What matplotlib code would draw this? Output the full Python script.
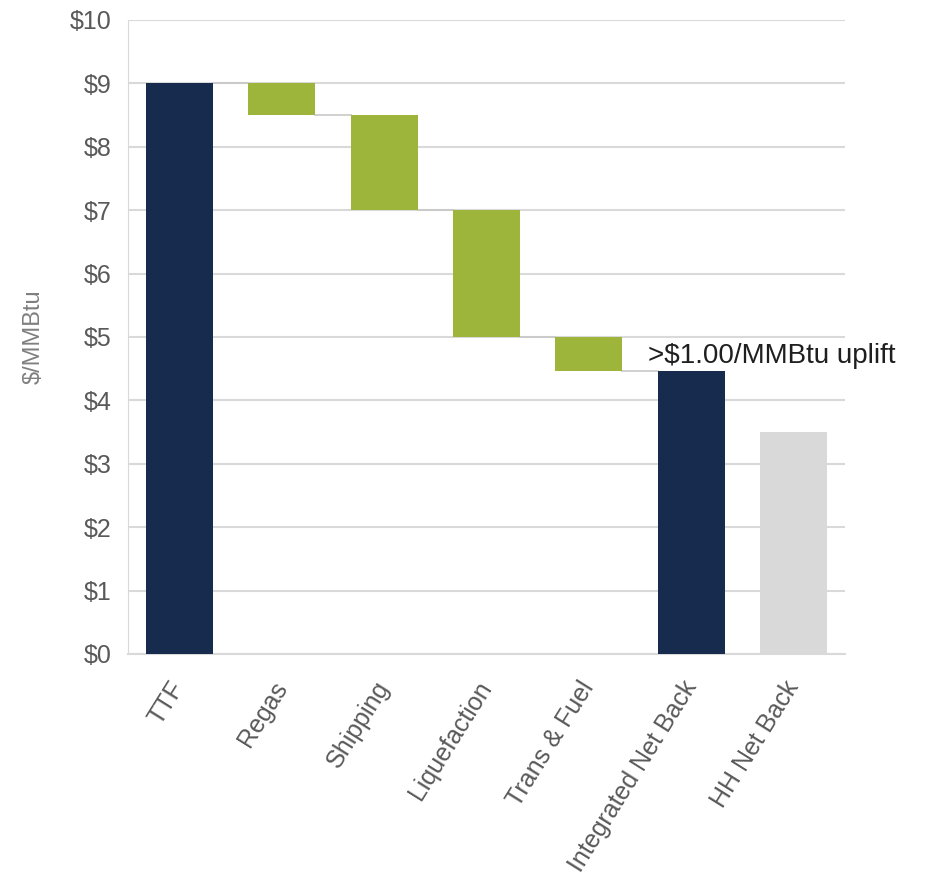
import matplotlib
matplotlib.use("Agg")
import matplotlib.pyplot as plt

categories = ["TTF", "Regas", "Shipping", "Liquefaction", "Trans & Fuel",
              "Integrated Net Back", "HH Net Back"]
# top and bottom value of each bar in the waterfall
tops = [9.0, 9.0, 8.5, 7.0, 5.0, 4.47, 3.5]
bottoms = [0.0, 8.5, 7.0, 5.0, 4.47, 0.0, 0.0]
colors = ["#172b4f", "#9db53a", "#9db53a", "#9db53a", "#9db53a", "#172b4f", "#d9d9d9"]
yticks = list(range(0, 11))
ytick_labels = [f"${v}" for v in yticks]
annotation = ">$1.00/MMBtu uplift"

plt.rcParams['font.family'] = ['Liberation Sans', 'DejaVu Sans']
fig = plt.figure(figsize=(9.3, 8.84), dpi=100)
ax = fig.add_axes([0.1376, 0.2602, 0.7710, 0.7172])

x = list(range(len(categories)))
width = 0.655
heights = [t - b for t, b in zip(tops, bottoms)]
ax.bar(x, heights, bottom=bottoms, width=width, color=colors, zorder=3)

# connectors between consecutive steps (level where one bar ends and next begins)
for i in range(len(categories) - 2):
    level = tops[0] if i == 0 else bottoms[i]
    ax.plot([i + width / 2, i + 1 - width / 2], [level, level],
            color="#c8c8c8", lw=1.2, zorder=2)

ax.set_xlim(-0.5, 6.5)
ax.set_ylim(0, 10)
ax.set_yticks(yticks)
ax.set_yticklabels(ytick_labels, fontsize=18, color="#595959")
ax.set_xticks(x)
ax.set_xticklabels(categories, rotation=58, ha="right", va="center",
                   rotation_mode="anchor", fontsize=18, color="#595959")
ax.tick_params(axis="x", length=0, pad=21)
ax.tick_params(axis="y", length=0, pad=12)
ax.yaxis.grid(True, color="#d9d9d9", lw=1.5, zorder=0)
for s in ["top", "right"]:
    ax.spines[s].set_visible(False)
ax.spines["left"].set_color("#d9d9d9")
ax.spines["bottom"].set_color("#d9d9d9")
ax.spines["bottom"].set_linewidth(1.5)
ax.set_ylabel("$/MMBtu", fontsize=17, color="#7f7f7f")
ax.yaxis.set_label_coords(-0.116, 0.5)

ax.text(4.58, 4.59, annotation, fontsize=20, color="#1f1f1f",
        ha="left", va="baseline", zorder=4)

fig.savefig("out.png", dpi=100)
